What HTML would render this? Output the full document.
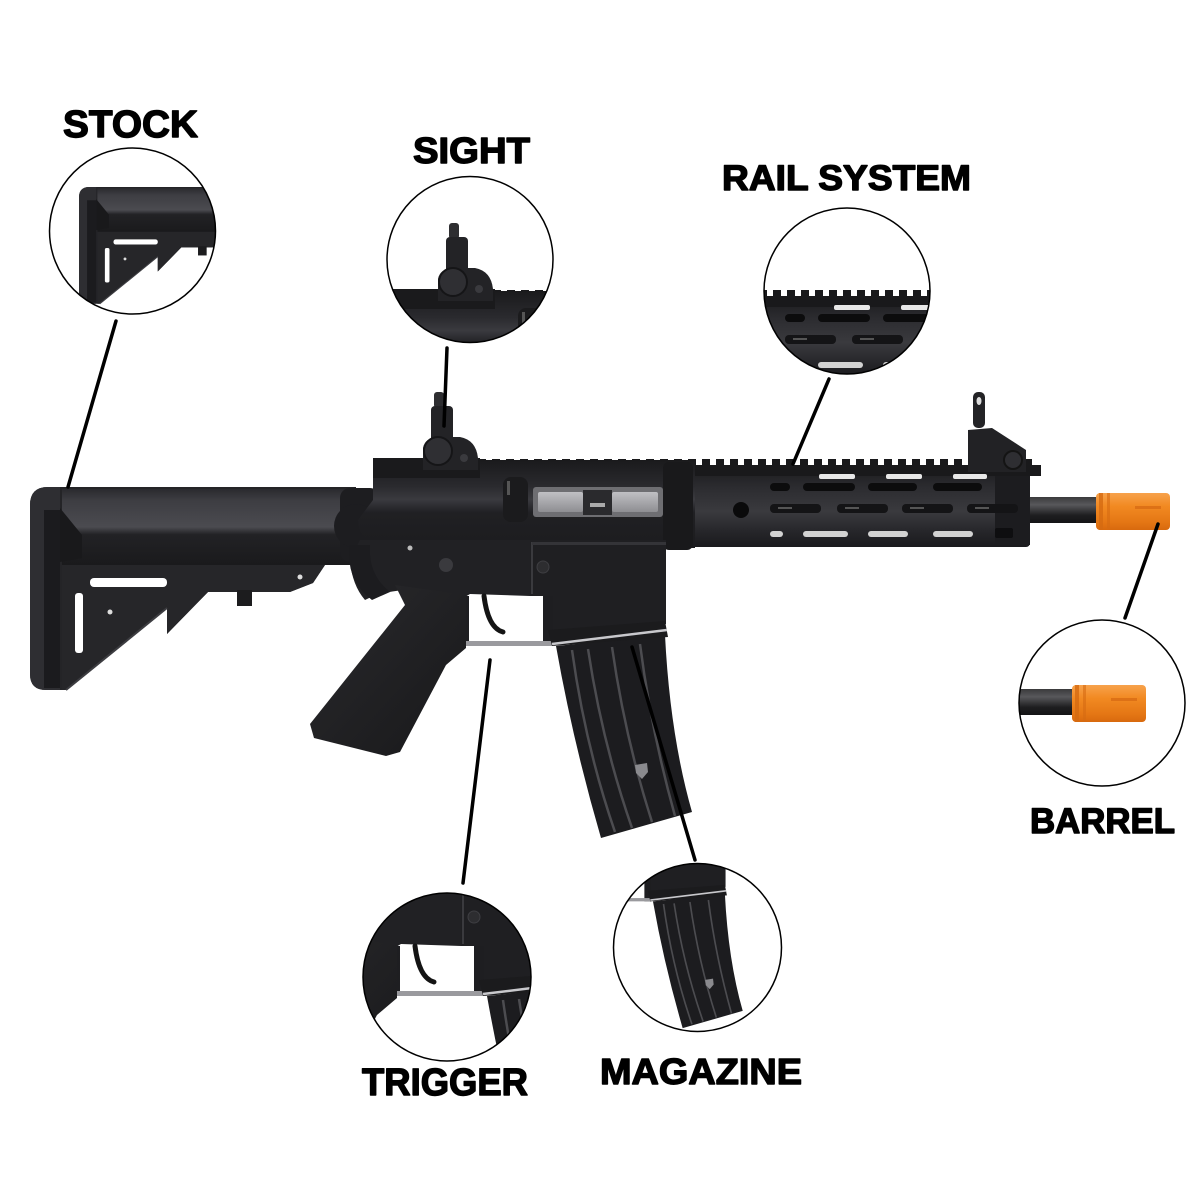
<!DOCTYPE html>
<html>
<head>
<meta charset="utf-8">
<style>
html,body{margin:0;padding:0;background:#fff;}
svg{display:block;}
</style>
</head>
<body>
<svg width="1200" height="1200" viewBox="0 0 1200 1200" xmlns="http://www.w3.org/2000/svg">
<defs>
  <linearGradient id="gStock" x1="0" y1="0" x2="0" y2="1">
    <stop offset="0" stop-color="#2a2a2e"/>
    <stop offset="0.15" stop-color="#3d3d42"/>
    <stop offset="0.5" stop-color="#4b4b50"/>
    <stop offset="0.6" stop-color="#222225"/>
    <stop offset="1" stop-color="#1a1a1c"/>
  </linearGradient>
  <linearGradient id="gBarrel" x1="0" y1="0" x2="0" y2="1">
    <stop offset="0" stop-color="#3a3a3c"/>
    <stop offset="0.3" stop-color="#58585b"/>
    <stop offset="0.7" stop-color="#1e1e20"/>
    <stop offset="1" stop-color="#141416"/>
  </linearGradient>
  <linearGradient id="gOrange" x1="0" y1="0" x2="0" y2="1">
    <stop offset="0" stop-color="#f7a24c"/>
    <stop offset="0.35" stop-color="#f28a22"/>
    <stop offset="0.8" stop-color="#e47614"/>
    <stop offset="1" stop-color="#d8690e"/>
  </linearGradient>
  <linearGradient id="gHand" x1="0" y1="0" x2="0" y2="1">
    <stop offset="0" stop-color="#1c1c1f"/>
    <stop offset="0.25" stop-color="#2c2c30"/>
    <stop offset="0.55" stop-color="#3a3a3e"/>
    <stop offset="0.8" stop-color="#26262a"/>
    <stop offset="1" stop-color="#1a1a1d"/>
  </linearGradient>
  <linearGradient id="gUpper" x1="0" y1="0" x2="0" y2="1">
    <stop offset="0" stop-color="#1a1a1c"/>
    <stop offset="0.3" stop-color="#2a2a2e"/>
    <stop offset="0.45" stop-color="#3a3a3f"/>
    <stop offset="0.6" stop-color="#202023"/>
    <stop offset="1" stop-color="#1c1c1f"/>
  </linearGradient>
  <linearGradient id="gPort" x1="0" y1="0" x2="0" y2="1">
    <stop offset="0" stop-color="#c0c0c4"/>
    <stop offset="1" stop-color="#8e8e92"/>
  </linearGradient>
  <linearGradient id="gGrip" x1="0" y1="0" x2="1" y2="1">
    <stop offset="0" stop-color="#2a2a2d"/>
    <stop offset="1" stop-color="#18181a"/>
  </linearGradient>
  <pattern id="teeth" x="478" y="0" width="14" height="8" patternUnits="userSpaceOnUse">
    <rect x="0" y="0" width="8" height="8" fill="#19191b"/>
  </pattern>

  <clipPath id="cStock"><circle cx="132.5" cy="231" r="83"/></clipPath>
  <clipPath id="cSight"><circle cx="470" cy="259.5" r="83"/></clipPath>
  <clipPath id="cRail"><circle cx="847" cy="291" r="83"/></clipPath>
  <clipPath id="cBarrel"><circle cx="1102" cy="703" r="83"/></clipPath>
  <clipPath id="cTrig"><circle cx="447" cy="977" r="84"/></clipPath>
  <clipPath id="cMag"><circle cx="697.5" cy="947.5" r="84"/></clipPath>

  <g id="rifle">
    <rect x="1020" y="497" width="80" height="26" fill="url(#gBarrel)"/>
    <rect x="1096" y="493" width="74" height="37" rx="4" fill="url(#gOrange)"/>
    <rect x="1099" y="493" width="4" height="37" fill="#d56a12" opacity="0.8"/>
    <rect x="1107" y="493" width="3" height="37" fill="#d56a12" opacity="0.6"/>
    <rect x="1135" y="506" width="26" height="3" fill="#d86c14" opacity="0.8"/>

    <rect x="680" y="468" width="350" height="79" rx="4" fill="url(#gHand)"/>
    <rect x="995" y="468" width="35" height="77" fill="#1c1c1f"/>
    <rect x="373" y="465" width="668" height="11" fill="#19191b"/>
    <rect x="478" y="459" width="560" height="7" fill="url(#teeth)"/>
    <rect x="819" y="474" width="36" height="5" rx="2" fill="#e8e8e8"/>
    <rect x="886" y="474" width="36" height="5" rx="2" fill="#e8e8e8"/>
    <rect x="953" y="474" width="34" height="5" rx="2" fill="#e8e8e8"/>
    <rect x="770" y="483" width="20" height="8" rx="4" fill="#0c0c0d"/>
    <rect x="803" y="483" width="52" height="8" rx="4" fill="#0c0c0d"/>
    <rect x="868" y="483" width="49" height="8" rx="4" fill="#0c0c0d"/>
    <rect x="933" y="483" width="49" height="8" rx="4" fill="#0c0c0d"/>
    <rect x="770" y="504" width="51" height="9" rx="4" fill="#141416"/>
    <rect x="837" y="504" width="51" height="9" rx="4" fill="#141416"/>
    <rect x="902" y="504" width="51" height="9" rx="4" fill="#141416"/>
    <rect x="967" y="504" width="51" height="9" rx="4" fill="#141416"/>
    <rect x="778" y="507" width="14" height="2" fill="#555"/>
    <rect x="845" y="507" width="14" height="2" fill="#555"/>
    <rect x="910" y="507" width="14" height="2" fill="#555"/>
    <rect x="975" y="507" width="14" height="2" fill="#555"/>
    <rect x="770" y="531" width="13" height="6" rx="3" fill="#d2d2d2"/>
    <rect x="803" y="531" width="45" height="6" rx="3" fill="#d2d2d2"/>
    <rect x="868" y="531" width="40" height="6" rx="3" fill="#d2d2d2"/>
    <rect x="933" y="531" width="40" height="6" rx="3" fill="#d2d2d2"/>
    <rect x="995" y="528" width="18" height="10" rx="2" fill="#0e0e10"/>
    <circle cx="741" cy="510" r="8" fill="#0a0a0b"/>

    <rect x="973" y="392" width="12" height="36" rx="5" fill="#232326"/>
    <ellipse cx="979" cy="401" rx="2.5" ry="4" fill="#ddd"/>
    <path d="M968,430 L992,428 L1026,450 L1026,472 L968,472 Z" fill="#222225"/>
    <circle cx="1013" cy="460" r="9" fill="#2e2e32" stroke="#141414" stroke-width="2"/>

    <path d="M30,505 Q30,487 48,487 L356,487 L356,565 L325,565 L313,583 L290,592 L208,592 L167,634 L167,608 L66,690 L46,690 Q30,690 30,674 Z" fill="#242427"/>
    <rect x="62" y="489" width="292" height="76" fill="url(#gStock)"/>
    <path d="M62,565 L325,565 L313,583 L290,592 L208,592 L167,634 L167,608 L66,690 L62,690 Z" fill="#262629"/>
    <path d="M66,690 L167,608" stroke="#3c3c40" stroke-width="2"/>
    <path d="M30,505 Q30,487 48,487 L60,487 L60,690 L46,690 Q30,690 30,674 Z" fill="#2e2e32"/>
    <rect x="44" y="510" width="16" height="178" fill="#1b1b1e"/>
    <path d="M60,508 L82,535 L82,558 L60,562 Z" fill="#19191b"/>
    <rect x="90" y="578" width="77" height="9" rx="4" fill="#fff"/>
    <rect x="75" y="593" width="8" height="60" rx="3" fill="#fff"/>
    <rect x="237" y="590" width="15" height="16" fill="#1c1c1e"/>
    <circle cx="110" cy="612" r="2.5" fill="#ddd"/>
    <circle cx="300" cy="577" r="2.5" fill="#ddd"/>
    <rect x="340" y="488" width="40" height="74" rx="10" fill="#1d1d20"/>
    <circle cx="356" cy="526" r="22" fill="#1d1d20"/>

    <path d="M373,460 L695,460 L695,548 L380,548 Q360,545 358,520 L373,500 Z" fill="url(#gUpper)"/>
    <rect x="373" y="458" width="107" height="20" fill="#1a1a1c"/>
    <rect x="533" y="487" width="130" height="30" rx="3" fill="#6e6e72"/>
    <rect x="538" y="492" width="45" height="20" rx="2" fill="url(#gPort)"/>
    <rect x="612" y="492" width="46" height="20" rx="2" fill="url(#gPort)"/>
    <rect x="583" y="490" width="29" height="25" fill="#2a2a2d"/>
    <rect x="590" y="503" width="15" height="4" fill="#aaa"/>
    <rect x="503" y="477" width="25" height="45" rx="8" fill="#1b1b1d"/>
    <rect x="507" y="481" width="3" height="14" fill="#555"/>
    <rect x="663" y="462" width="30" height="88" rx="6" fill="#19191b"/>

    <path d="M360,540 L530,540 L530,596 L470,594 L460,600 L405,590 Q380,592 365,600 Q352,585 350,560 Z" fill="#212124"/>
    <path d="M350,545 Q345,580 372,600 L390,592 Q368,575 370,545 Z" fill="#1c1c1f"/>
    <circle cx="446" cy="565" r="7" fill="#3a3a3e"/>
    <circle cx="410" cy="548" r="2.5" fill="#bbb"/>
    <path d="M530,540 L666,540 L666,624 L553,642 L545,645 L545,596 L530,596 Z" fill="#1f1f22"/>
    <rect x="531" y="542" width="2" height="52" fill="#3a3a3e"/>
    <circle cx="543" cy="567" r="6" fill="#2d2d30" stroke="#3e3e42" stroke-width="1"/>
    <rect x="532" y="542" width="134" height="3" fill="#343438"/>

    <rect x="460" y="596" width="9" height="50" fill="#1e1e21"/>
    <rect x="543" y="596" width="10" height="50" fill="#1e1e21"/>
    <rect x="462" y="641" width="90" height="5" fill="#9a9a9e"/>
    <path d="M484,596 Q488,628 503,632" stroke="#141414" stroke-width="5" fill="none" stroke-linecap="round"/>

    <path d="M395,585 L466,595 L466,648 L446,665 L400,752 L386,756 L314,738 L310,724 L405,605 Z" fill="url(#gGrip)"/>

    <path d="M556,646 L665,635 Q670,735 692,812 L601,838 Q573,742 556,646 Z" fill="#1c1c1f"/>
    <path d="M572,650 Q585,745 615,832" stroke="#4c4c50" stroke-width="2.5" fill="none"/>
    <path d="M588,649 Q602,742 632,828" stroke="#4c4c50" stroke-width="2.5" fill="none"/>
    <path d="M612,647 Q625,738 652,822" stroke="#4c4c50" stroke-width="2.5" fill="none"/>
    <path d="M640,644 Q651,730 675,816" stroke="#4c4c50" stroke-width="2.5" fill="none"/>
    <path d="M548,630 L665,621 L668,637 L552,646 Z" fill="#1b1b1d"/>
    <path d="M552,644 L667,630" stroke="#c8c8cc" stroke-width="2.5"/>
    <path d="M635,765 L647,763 L648,772 L642,779 L636,773 Z" fill="#8a8a8e"/>

    <rect x="434" y="392" width="10" height="16" rx="3" fill="#2e2e31"/>
    <rect x="431" y="406" width="22" height="36" rx="4" fill="#232326"/>
    <path d="M423,470 L423,448 Q425,437 440,437 L460,437 Q476,440 478,458 L478,470 Z" fill="#232326"/>
    <circle cx="438" cy="451" r="14" fill="#2f2f33" stroke="#151517" stroke-width="2"/>
    <circle cx="464" cy="458" r="4" fill="#3a3a3e"/>
  </g>
</defs>

<rect width="1200" height="1200" fill="#fff"/>

<use href="#rifle"/>

<g clip-path="url(#cStock)"><use href="#rifle" transform="translate(61.75,-93) scale(0.575)"/></g>
<circle cx="132.5" cy="231" r="83" fill="none" stroke="#000" stroke-width="1.5"/>

<g clip-path="url(#cSight)"><use href="#rifle" transform="translate(15,-169)"/></g>
<circle cx="470" cy="259.5" r="83" fill="none" stroke="#000" stroke-width="1.5"/>

<g clip-path="url(#cRail)"><use href="#rifle" transform="translate(15,-169)"/></g>
<circle cx="847" cy="291" r="83" fill="none" stroke="#000" stroke-width="1.5"/>

<g clip-path="url(#cBarrel)"><use href="#rifle" transform="translate(-24,192)"/></g>
<circle cx="1102" cy="703" r="83" fill="none" stroke="#000" stroke-width="1.5"/>

<g clip-path="url(#cTrig)"><use href="#rifle" transform="translate(-69,350)"/></g>
<circle cx="447" cy="977" r="84" fill="none" stroke="#000" stroke-width="1.5"/>

<g clip-path="url(#cMag)"><use href="#rifle" transform="translate(286,475) scale(0.66)"/></g>
<circle cx="697.5" cy="947.5" r="84" fill="none" stroke="#000" stroke-width="1.5"/>

<g stroke="#000" stroke-width="3.5" stroke-linecap="round">
  <line x1="116" y1="321" x2="68" y2="487"/>
  <line x1="447" y1="348" x2="444" y2="426"/>
  <line x1="829" y1="379" x2="793" y2="464"/>
  <line x1="1158" y1="524" x2="1125" y2="618"/>
  <line x1="490" y1="660" x2="463" y2="883"/>
  <line x1="632" y1="647" x2="695" y2="860"/>
</g>

<g font-family="'Liberation Sans', Arial, sans-serif" font-weight="bold" fill="#000" stroke="#000" stroke-width="1.4" stroke-linejoin="round">
  <text x="63" y="137" font-size="38" textLength="135" lengthAdjust="spacingAndGlyphs">STOCK</text>
  <text x="413" y="163" font-size="36" textLength="117" lengthAdjust="spacingAndGlyphs">SIGHT</text>
  <text x="722" y="190" font-size="35" textLength="249" lengthAdjust="spacingAndGlyphs">RAIL SYSTEM</text>
  <text x="1030" y="833" font-size="35" textLength="145" lengthAdjust="spacingAndGlyphs">BARREL</text>
  <text x="362" y="1095" font-size="38" textLength="166" lengthAdjust="spacingAndGlyphs">TRIGGER</text>
  <text x="600" y="1084" font-size="36" textLength="202" lengthAdjust="spacingAndGlyphs">MAGAZINE</text>
</g>
</svg>
</body>
</html>
